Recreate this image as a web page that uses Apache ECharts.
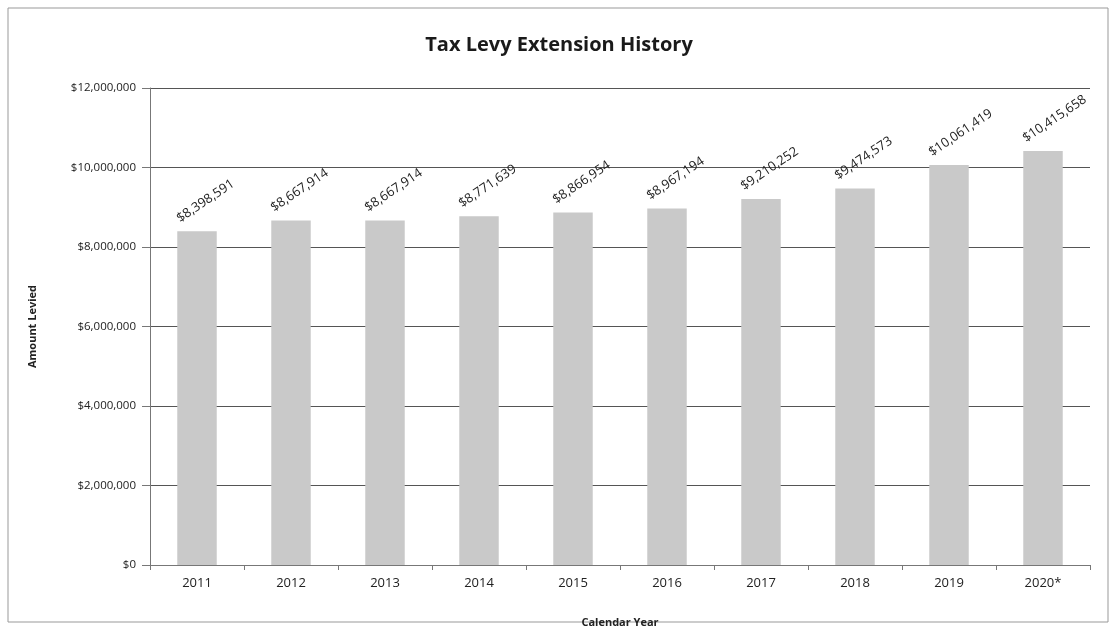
<!DOCTYPE html>
<html><head><meta charset="utf-8">
<script src="https://cdn.jsdelivr.net/npm/echarts@6/dist/echarts.min.js"></script>
<style>html,body{margin:0;padding:0;background:#fff}#c{width:1118px;height:642px}</style>
</head><body><div id="c"></div>
<script>
const categories = ['2011','2012','2013','2014','2015','2016','2017','2018','2019','2020*'];
const levyValues = [8398591, 8667914, 8667914, 8771639, 8866954, 8967194, 9210252, 9474573, 10061419, 10415658];
const yTicks = [0, 2000000, 4000000, 6000000, 8000000, 10000000, 12000000];

const fmt = v => '$' + v.toLocaleString('en-US');
const chart = echarts.init(document.getElementById('c'));
chart.setOption({
  backgroundColor: '#fff',
  animation: false,
  title: {
    text: 'Tax Levy Extension History', left: 'center', top: 30,
    textStyle: { fontFamily: 'Open Sans', fontWeight: 'bold', fontSize: 20, color: '#1a1a1a' }
  },
  graphic: [{ type: 'rect', shape: { x: 8, y: 8, width: 1100, height: 614 },
    style: { fill: 'none', stroke: '#999', lineWidth: 1 } }],
  grid: { left: 150, right: 28, top: 88, bottom: 77 },
  xAxis: {
    type: 'category', data: categories,
    name: 'Calendar Year', nameLocation: 'middle', nameGap: 52,
    nameTextStyle: { fontFamily: 'Open Sans', fontWeight: 'bold', fontSize: 11, color: '#222' },
    axisLine: { lineStyle: { color: '#777' } },
    axisTick: { show: true, lineStyle: { color: '#777' } },
    axisLabel: { fontFamily: 'Open Sans', fontSize: 13, color: '#222', margin: 12 }
  },
  yAxis: {
    type: 'value', min: 0, max: 12000000, interval: 2000000,
    name: 'Amount Levied', nameLocation: 'middle', nameGap: 112, nameRotate: 90,
    nameTextStyle: { fontFamily: 'Open Sans', fontWeight: 'bold', fontSize: 11, color: '#222' },
    axisLine: { show: true, lineStyle: { color: '#777' } },
    axisTick: { show: true, length: 8, lineStyle: { color: '#777' } },
    splitLine: { lineStyle: { color: '#555', width: 1 } },
    axisLabel: { fontFamily: 'Open Sans', fontSize: 11.5, color: '#222', margin: 14,
      formatter: v => yTicks.includes(v) ? fmt(v) : '' }
  },
  series: [{
    type: 'bar', data: levyValues, barWidth: '42%',
    itemStyle: { color: '#c9c9c9' },
    label: {
      show: true, position: 'top', rotate: 34, align: 'left', verticalAlign: 'middle',
      offset: [-12, -16], formatter: p => fmt(p.value),
      fontFamily: 'Open Sans', fontSize: 13, color: '#222'
    }
  }]
});
</script></body></html>
